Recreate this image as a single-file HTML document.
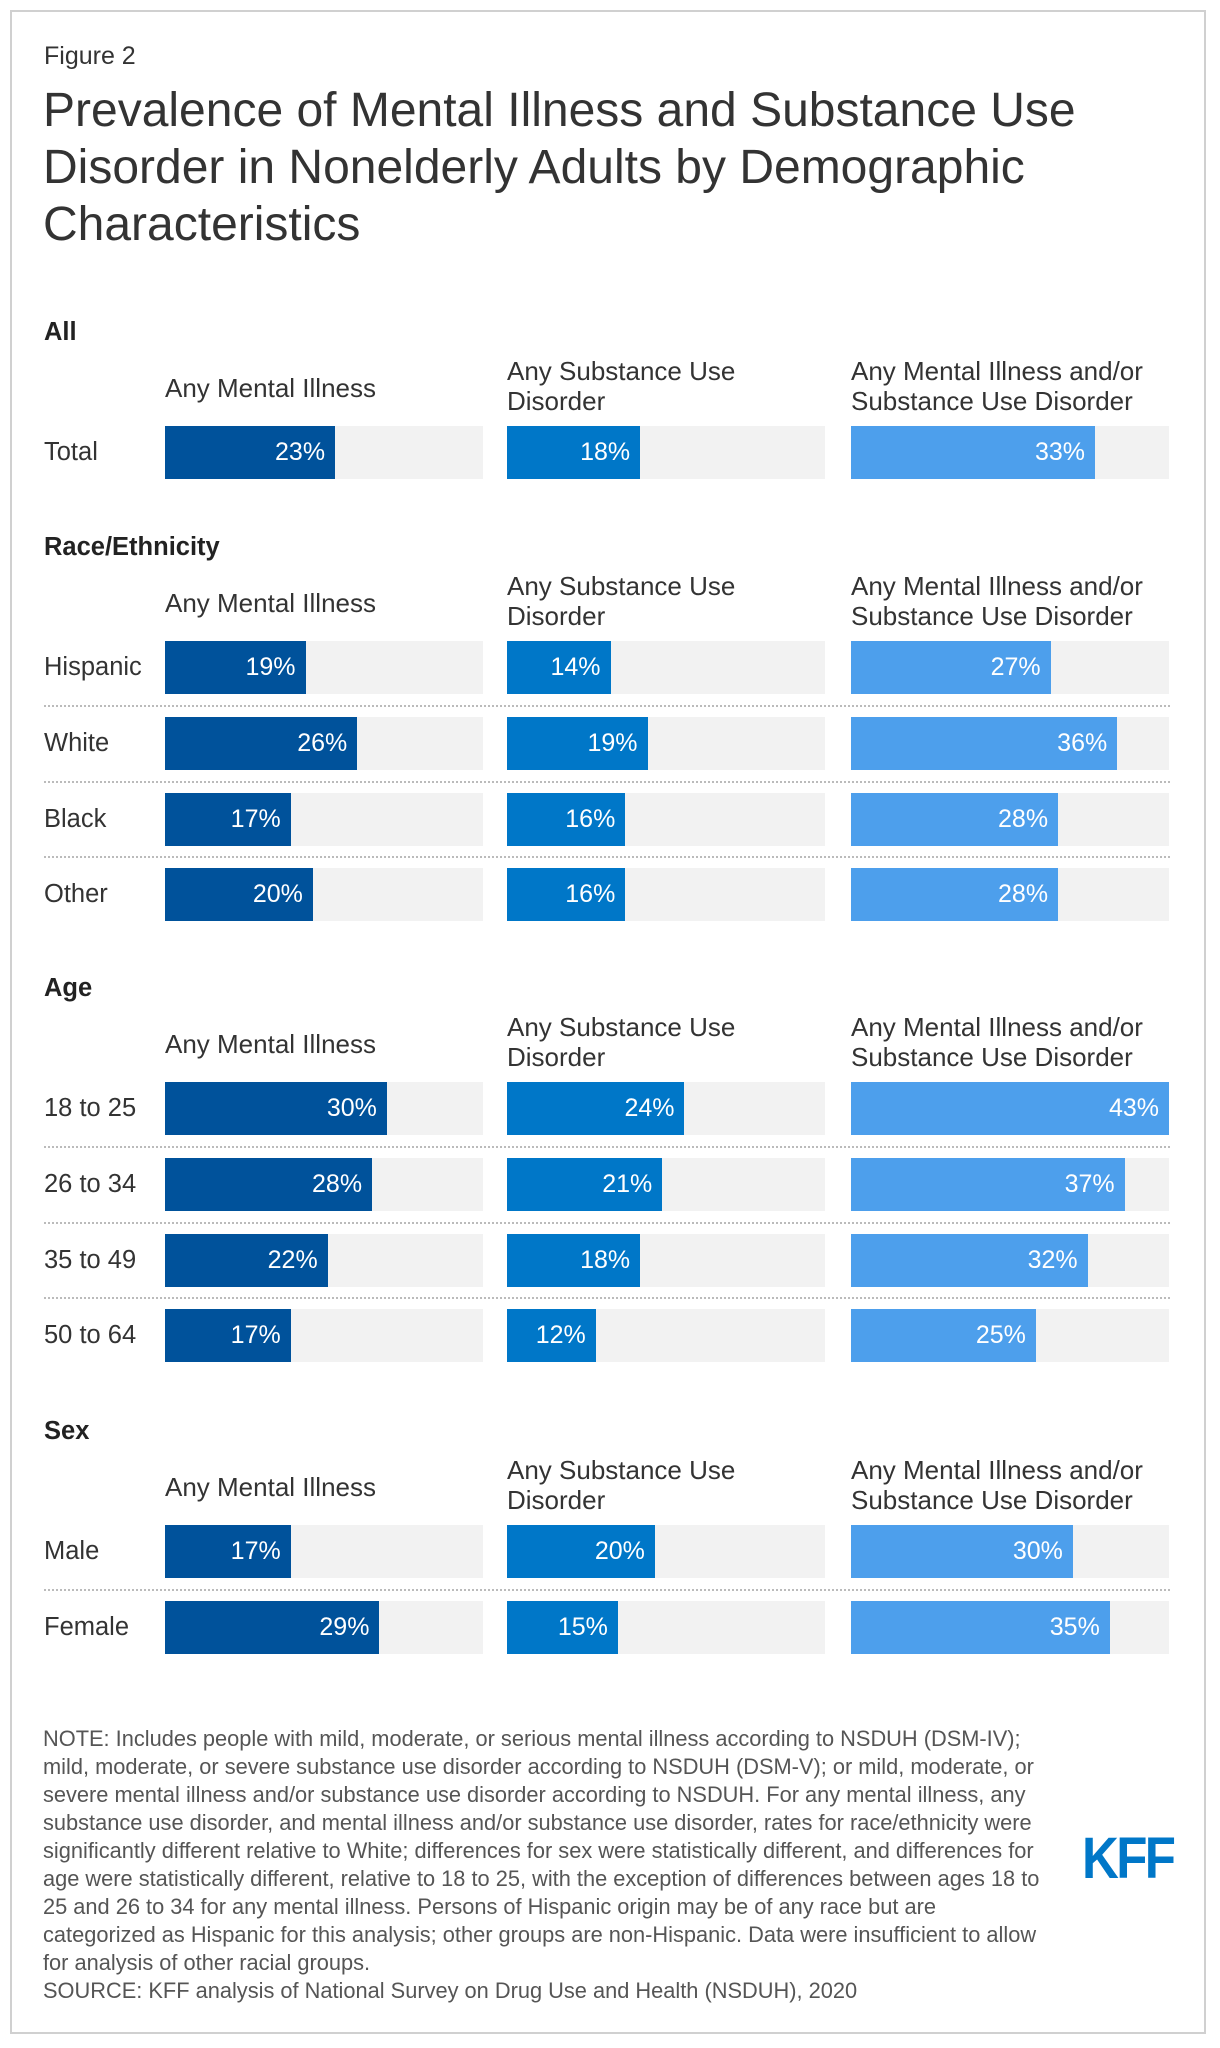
<!DOCTYPE html>
<html><head><meta charset="utf-8">
<style>
body{margin:0;width:1220px;height:2048px;background:#fff;font-family:"Liberation Sans",Arial,sans-serif;position:relative;overflow:hidden}
.abs{position:absolute}
#frame{left:10px;top:10px;width:1196px;height:2024px;border:2px solid #d0d0d0;box-sizing:border-box}
.hdr{position:absolute;font-size:26px;line-height:30px;color:#333}
.sec{position:absolute;font-size:25.5px;font-weight:bold;color:#222;left:44px}
.lab{position:absolute;font-size:25.5px;color:#333;left:44px}
.track{position:absolute;background:#f2f2f2}
.bar{position:absolute;left:0;top:0;bottom:0}
.val{position:absolute;right:10px;top:0;bottom:0;display:flex;align-items:center;color:#fff;font-size:25px}
.sep{position:absolute;left:44px;width:1126px;border-top:2px dotted #bbb}
</style></head><body>
<div id="frame" class="abs"></div>
<div class="abs" style="left:44px;top:42px;font-size:25px;color:#333">Figure 2</div>
<div class="abs" style="left:43px;top:82px;font-size:48px;line-height:57px;color:#333;width:1140px">Prevalence of Mental Illness and Substance Use Disorder in Nonelderly Adults by Demographic Characteristics</div>
<div id="chart"></div>
<div class="abs" style="left:43px;top:1725px;white-space:nowrap;font-size:21.8px;line-height:28px;color:#555">NOTE: Includes people with mild, moderate, or serious mental illness according to NSDUH (DSM-IV);<br>mild, moderate, or severe substance use disorder according to NSDUH (DSM-V); or mild, moderate, or<br>severe mental illness and/or substance use disorder according to NSDUH. For any mental illness, any<br>substance use disorder, and mental illness and/or substance use disorder, rates for race/ethnicity were<br>significantly different relative to White; differences for sex were statistically different, and differences for<br>age were statistically different, relative to 18 to 25, with the exception of differences between ages 18 to<br>25 and 26 to 34 for any mental illness. Persons of Hispanic origin may be of any race but are<br>categorized as Hispanic for this analysis; other groups are non-Hispanic. Data were insufficient to allow<br>for analysis of other racial groups.<br>SOURCE: KFF analysis of National Survey on Drug Use and Health (NSDUH), 2020</div>
<div class="abs" style="left:1082px;top:1830px;font-size:58px;font-weight:bold;color:#0077c8;letter-spacing:-3px;transform:scaleX(0.88);transform-origin:left;line-height:58px">KFF</div>
<script>
const sections = ["All","Race/Ethnicity","Age","Sex"];
const categories = [["Total"],["Hispanic","White","Black","Other"],["18 to 25","26 to 34","35 to 49","50 to 64"],["Male","Female"]];
const seriesNames = ["Any Mental Illness","Any Substance Use Disorder","Any Mental Illness and/or Substance Use Disorder"];
const mentalIllness = [[23],[19,26,17,20],[30,28,22,17],[17,29]];
const substanceUse = [[18],[14,19,16,16],[24,21,18,12],[20,15]];
const eitherDisorder = [[33],[27,36,28,28],[43,37,32,25],[30,35]];
const maxValue = 43;

const series=[mentalIllness,substanceUse,eitherDisorder];
const colors=["#00529b","#0077c8","#4d9fec"];
const colX=[165,507,851], trackW=318, barH=53, pitch=75.8;
const secTop=[318,533,974,1417];
const chart=document.getElementById('chart');
function xs(v){return v/maxValue*trackW;}
sections.forEach((s,si)=>{
  const top=secTop[si];
  const h=document.createElement('div');h.className='sec';h.style.top=top+'px';h.textContent=s;
  
  
  chart.appendChild(h);
  seriesNames.forEach((n,ci)=>{
    const d=document.createElement('div');d.className='hdr';
    d.style.left=colX[ci]+'px';d.style.width='330px';
    d.style.top=(ci==0? top+55 : top+38)+'px';
    d.innerHTML= ci==0? n : ci==1? 'Any Substance Use<br>Disorder' : 'Any Mental Illness and/or<br>Substance Use Disorder';
    
    
    chart.appendChild(d);
  });
  categories[si].forEach((c,ri)=>{
    const y=top+108+ri*pitch;
    const l=document.createElement('div');l.className='lab';l.style.top=(y+12)+'px';l.textContent=c;
    
    
    chart.appendChild(l);
    if(ri>0){const sp=document.createElement('div');sp.className='sep';sp.style.top=(y-12)+'px';
      
      
      chart.appendChild(sp);}
    series.forEach((arr,ci)=>{
      const v=arr[si][ri];
      const t=document.createElement('div');t.className='track';
      t.style.left=colX[ci]+'px';t.style.top=y+'px';t.style.width=trackW+'px';t.style.height=barH+'px';
      
      
      const b=document.createElement('div');b.className='bar';b.style.width=xs(v)+'px';b.style.background=colors[ci];
      
      
      const vl=document.createElement('div');vl.className='val';vl.textContent=v+'%';
      
      
      b.appendChild(vl);t.appendChild(b);chart.appendChild(t);
    });
  });
});
</script>
</body></html>
